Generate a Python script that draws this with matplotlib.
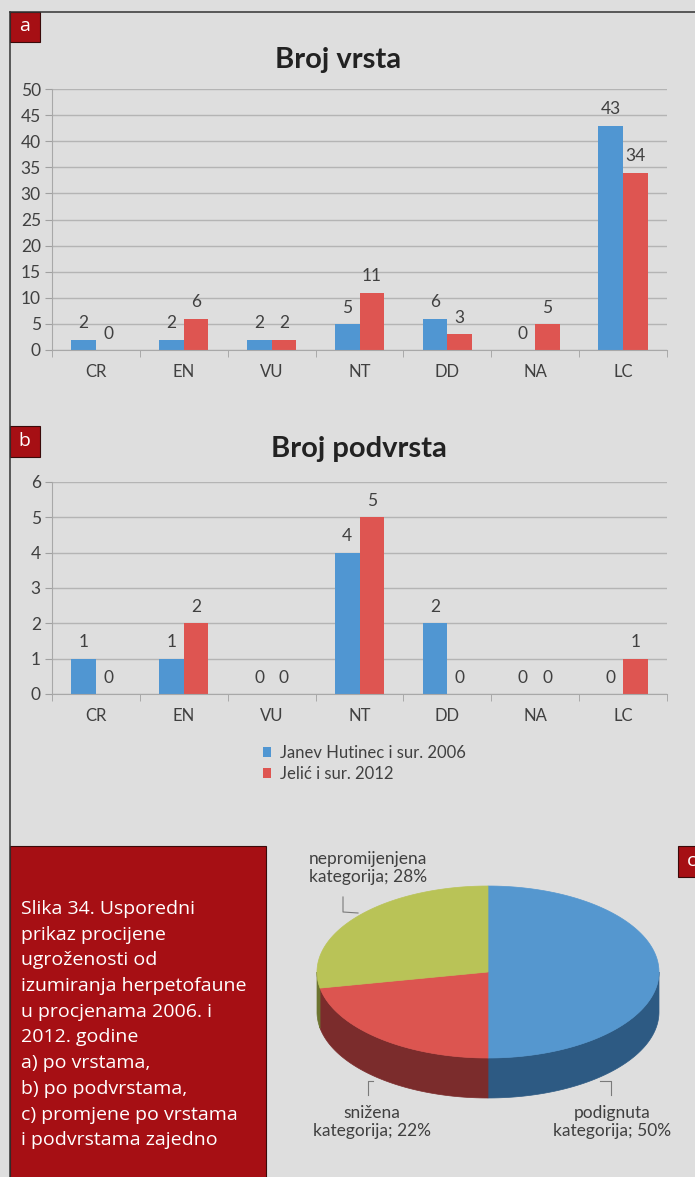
import numpy as np
import matplotlib
matplotlib.use("Agg")
import matplotlib.pyplot as plt
from matplotlib.patches import Polygon, Rectangle

plt.rcParams['font.family'] = ['Lato', 'DejaVu Sans']

# data
cats = ["CR", "EN", "VU", "NT", "DD", "NA", "LC"]
series = ["Janev Hutinec i sur. 2006", "Jelić i sur. 2012"]
vrste_2006 = [2, 2, 2, 5, 6, 0, 43]
vrste_2012 = [0, 6, 2, 11, 3, 5, 34]
podvrste_2006 = [1, 1, 0, 4, 2, 0, 0]
podvrste_2012 = [0, 2, 0, 5, 0, 0, 1]

pie_labels = ["podignuta\nkategorija; 50%", "snižena\nkategorija; 22%",
              "nepromijenjena\nkategorija; 28%"]
pie_values = [50, 22, 28]

caption = ["Slika 34. Usporedni", "prikaz procijene", "ugroženosti od",
           "izumiranja herpetofaune", "u procjenama 2006. i", "2012. godine",
           "a) po vrstama,", "b) po podvrstama,", "c) promjene po vrstama",
           "i podvrstama zajedno"]

W, H = 695, 1177
BG = "#dedede"
BLUE = "#5096d2"
RED = "#de5551"
DARKRED = "#a60f14"
TXT = "#404040"
GRID = "#b4b4b4"
FS = 12

fig = plt.figure(figsize=(W / 100, H / 100), dpi=100, facecolor=BG)


def box(l, t, r, b):
    return [l / W, 1 - b / H, (r - l) / W, (b - t) / H]


# overlay axes in pixel coordinates
ov = fig.add_axes([0, 0, 1, 1], zorder=0)
ov.set_xlim(0, W)
ov.set_ylim(H, 0)
ov.axis('off')

# frame lines
ov.plot([9.5, W], [11.5, 11.5], color="#333333", lw=1.1)
ov.plot([9.5, 9.5], [11.5, H], color="#333333", lw=1.1)


def panel_label(x0, y0, x1, y1, s):
    ov.add_patch(Rectangle((x0, y0), x1 - x0, y1 - y0, facecolor=DARKRED,
                           edgecolor="#3a0a0a", lw=0.8))
    ov.text((x0 + x1) / 2 if s != "c" else x0 + 9, (y0 + y1) / 2 - 1, s,
            color="white", fontsize=14, family="Open Sans",
            ha="center" if s != "c" else "left", va="center")


panel_label(9.5, 12, 40, 42, "a")
panel_label(9.5, 426, 40, 457, "b")
panel_label(678, 846, 700, 877, "c")


def bar_panel(rect, v1, v2, ymax, step, title, title_xy):
    ax = fig.add_axes(box(*rect), zorder=1)
    ax.set_facecolor("none")
    x = np.arange(len(cats))
    w = 0.28
    b1 = ax.bar(x - w / 2, v1, w, color=BLUE, label=series[0])
    b2 = ax.bar(x + w / 2, v2, w, color=RED, label=series[1])
    for b in (b1, b2):
        ax.bar_label(b, padding=6, fontsize=12.5, color=TXT)
    ax.set_xlim(-0.5, len(cats) - 0.5)
    ax.set_ylim(0, ymax)
    ax.set_yticks(np.arange(0, ymax + step / 2, step))
    ax.set_xticks(x)
    ax.set_xticklabels(cats)
    ax.set_xticks(np.arange(-0.5, len(cats), 1), minor=True)
    ax.tick_params(axis='x', which='major', length=0, pad=10,
                   labelsize=FS, labelcolor=TXT)
    ax.tick_params(axis='x', which='minor', length=5, color="#a0a0a0")
    ax.tick_params(axis='y', length=5, color="#a0a0a0", pad=3,
                   labelsize=FS + 0.5, labelcolor=TXT)
    for s in ("top", "right"):
        ax.spines[s].set_visible(False)
    for s in ("left", "bottom"):
        ax.spines[s].set_color("#a8a8a8")
    ax.yaxis.grid(True, color=GRID, lw=1)
    ax.set_axisbelow(True)
    ov.text(title_xy[0], title_xy[1], title, fontsize=21, fontweight="bold",
            color="#222222", ha="center", va="baseline")
    return ax, b1, b2


bar_panel((52, 89, 667, 350), vrste_2006, vrste_2012, 50, 5,
          "Broj vrsta", (338, 68))
axb, b1, b2 = bar_panel((52, 482, 667, 694), podvrste_2006, podvrste_2012,
                        6, 1, "Broj podvrsta", (359, 457))

axb.legend(handles=[b1, b2], loc="upper left",
           bbox_to_anchor=(263 / W, 1 - 745 / H),
           bbox_transform=fig.transFigure, frameon=False, fontsize=FS,
           labelcolor=TXT, handlelength=0.45, handleheight=0.55,
           handletextpad=0.55, labelspacing=0.3, borderpad=0,
           borderaxespad=0)

# caption box
ov.add_patch(Rectangle((9.5, 846), 256, H - 846 + 5, facecolor=DARKRED,
                       edgecolor="#3a0a0a", lw=0.8))
for i, line in enumerate(caption):
    ov.text(21, 909 + i * 25.7, line, color="white", fontsize=14,
            family="Open Sans", ha="left", va="center")

# 3D pie
cx, cy, rx, ry, depth = 488, 972, 171, 86, 40
tops = ["#5597cf", "#dc5550", "#b9c357"]
sides = ["#2d5a83", "#7b2c2c", "#6c7530"]


def ell(t, dy=0):
    t = np.radians(t)
    return np.column_stack([cx + rx * np.cos(t), cy - ry * np.sin(t) + dy])


start = 90.0
spans = []
for v in pie_values:
    end = start - 360.0 * v / sum(pie_values)
    spans.append((start, end))
    start = end

for (t0, t1), col in zip(spans, sides):
    a, b = max(t1, -180), min(t0, 0)
    if a < b:
        tt = np.linspace(a, b, 80)
        pts = np.vstack([ell(tt), ell(tt[::-1], depth)])
        ov.add_patch(Polygon(pts, closed=True, facecolor=col, edgecolor=col,
                             lw=0.5))

for (t0, t1), col in zip(spans, tops):
    tt = np.linspace(t0, t1, 120)
    pts = np.vstack([[cx, cy], ell(tt)])
    ov.add_patch(Polygon(pts, closed=True, facecolor=col, edgecolor=col,
                         lw=0.5))

# pie labels with leader lines
lead = "#7a7a7a"
ov.plot([600, 611, 611], [1081, 1081, 1095], color=lead, lw=0.8)
ov.plot([373, 368, 368], [1081, 1081, 1095], color=lead, lw=0.8)
ov.plot([343, 343, 358], [897, 912, 913], color=lead, lw=0.8)
label_xy = [(612, 1122), (372, 1122), (368, 868)]
for s, (lx, ly) in zip(pie_labels, label_xy):
    ov.text(lx, ly, s, ha="center", va="center", fontsize=12.5, color=TXT,
            linespacing=1.2)

fig.savefig("out.png", dpi=100, facecolor=BG)
